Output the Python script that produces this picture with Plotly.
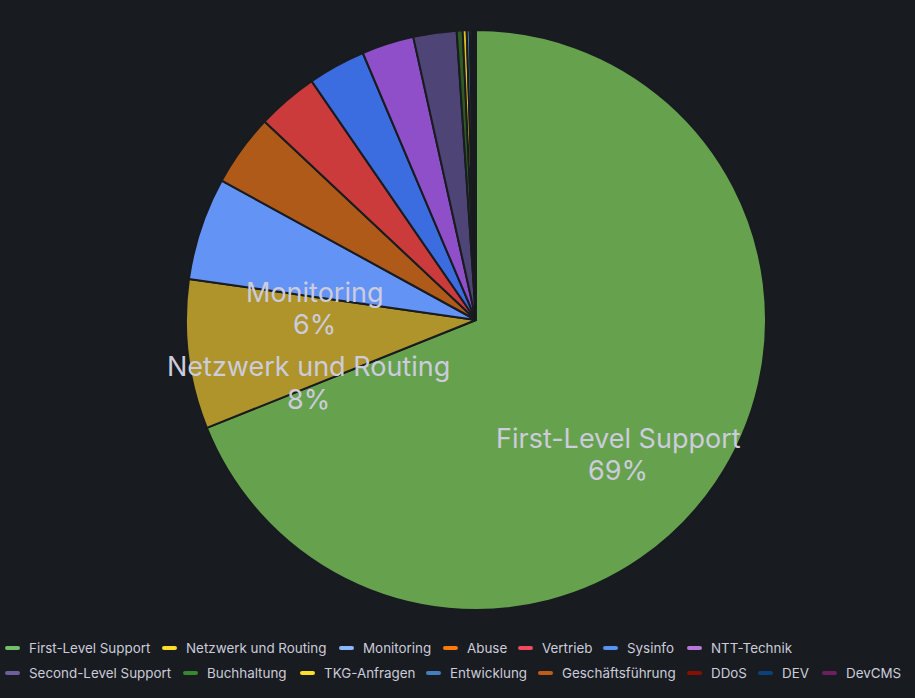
import plotly.graph_objects as go

# ---- data ----
categories = ["First-Level Support", "Netzwerk und Routing", "Monitoring", "Abuse", "Vertrieb",
              "Sysinfo", "NTT-Technik", "Second-Level Support", "Buchhaltung", "TKG-Anfragen",
              "Entwicklung", "Geschäftsführung", "DDoS", "DEV", "DevCMS"]
values = [687, 83, 57, 40, 34, 32, 29, 24, 3.3, 2.2, 1.7, 1.2, 0.8, 0.8, 0.6]
slice_colors = ["#66A24E", "#AE942A", "#6393F5", "#B05A1A", "#CC3B3B",
                "#3B6DE0", "#8E4FC9", "#4E4475", "#2F5A22", "#E0C020",
                "#4477AA", "#A0501A", "#7A1008", "#0A3A70", "#5E1B55"]
legend_colors = ["#73BF69", "#FADE2A", "#8AB8FF", "#FF780A", "#F2495C",
                 "#5794F2", "#B877D9", "#705DA0", "#37872D", "#FADE2A",
                 "#447EBC", "#C15C17", "#890F02", "#0A437C", "#6D1F62"]
labeled = ["First-Level Support", "Netzwerk und Routing", "Monitoring"]

# ---- layout helpers (pixels) ----
W, H = 915, 698
BG = "#181b1f"
TXT = "#ccccdc"
CX, CY, R = 476, 320, 290
label_pos = {"First-Level Support": (618, 438, 470),
             "Netzwerk und Routing": (308, 367, 399),
             "Monitoring": (314, 292, 324)}
legend_marker_x = [5, 162, 339, 443, 518, 603, 687,
                   5, 183, 300, 426, 538, 687, 758, 822]
legend_row = [0, 0, 0, 0, 0, 0, 0, 1, 1, 1, 1, 1, 1, 1, 1]
row_y = [648, 673]

def px(x):
    return x / W

def py(y):
    return 1 - y / H

fig = go.Figure(go.Pie(
    labels=categories, values=values, sort=False, direction="clockwise", rotation=0,
    marker=dict(colors=slice_colors, line=dict(color=BG, width=2)),
    textinfo="none", hoverinfo="label+percent", showlegend=False,
    domain=dict(x=[px(CX - R), px(CX + R)], y=[py(CY + R), py(CY - R)]),
))

total = sum(values)
annotations = []
for name in labeled:
    v = values[categories.index(name)]
    pct = round(v / total * 100)
    x, y1, y2 = label_pos[name]
    for txt, yy in ((name, y1), (f"{pct}%", y2)):
        annotations.append(dict(x=px(x), y=py(yy), xref="paper", yref="paper",
                                text=txt, showarrow=False,
                                xanchor="center", yanchor="middle",
                                font=dict(family="Inter", size=27, color=TXT)))

shapes = []
for name, col, mx, row in zip(categories, legend_colors, legend_marker_x, legend_row):
    yc = row_y[row]
    x0, x1 = mx, mx + 15
    y0, y1 = yc - 2, yc + 2
    path = (f"M {px(x0+2)},{py(y0)} L {px(x1-2)},{py(y0)} Q {px(x1)},{py(y0)} {px(x1)},{py(yc)} "
            f"Q {px(x1)},{py(y1)} {px(x1-2)},{py(y1)} L {px(x0+2)},{py(y1)} "
            f"Q {px(x0)},{py(y1)} {px(x0)},{py(yc)} Q {px(x0)},{py(y0)} {px(x0+2)},{py(y0)} Z")
    shapes.append(dict(type="path", path=path, xref="paper", yref="paper",
                       fillcolor=col, line=dict(width=0)))
    annotations.append(dict(x=px(mx + 22), y=py(yc), xref="paper", yref="paper",
                            text=name, showarrow=False, xanchor="left", yanchor="middle",
                            font=dict(family="Inter", size=13.4, color=TXT)))

fig.update_layout(
    width=W, height=H, margin=dict(l=0, r=0, t=0, b=0),
    paper_bgcolor=BG, plot_bgcolor=BG,
    annotations=annotations, shapes=shapes, showlegend=False,
)

fig.write_html("out.html", config={"displayModeBar": False},
               post_script="document.body.style.margin='0';document.body.style.background='#181b1f';")
